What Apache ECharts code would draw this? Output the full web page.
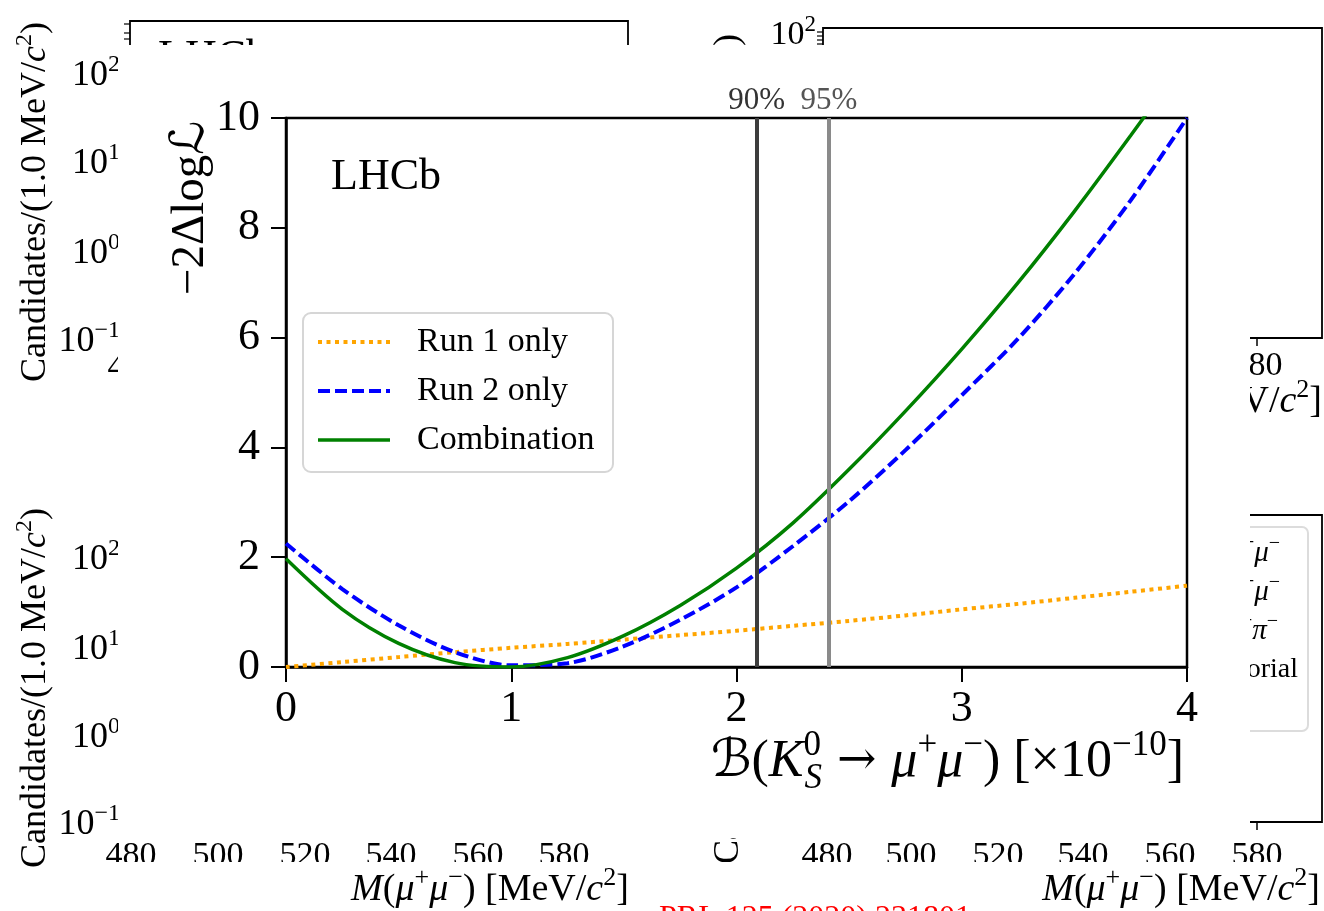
<!DOCTYPE html>
<html>
<head>
<meta charset="utf-8">
<script src="https://cdn.jsdelivr.net/npm/echarts@6/dist/echarts.min.js"></script>
<style>
  html, body { margin: 0; padding: 0; background: #fff; }
  #chart { width: 1324px; height: 911px; }
</style>
</head>
<body>
<div id="chart"></div>
<script>
// Scan points of the branching fraction, in units of 1e-10
const bfValues    = [0, 0.25, 0.5, 0.75, 1.0, 1.25, 1.5, 1.75, 2.0, 2.25, 2.5, 2.75, 3.0, 3.25, 3.5, 3.75, 4.0];
// -2 Delta log L profiles
const run1Only    = [0, 0.09, 0.18, 0.27, 0.35, 0.42, 0.50, 0.58, 0.66, 0.75, 0.84, 0.94, 1.05, 1.15, 1.26, 1.37, 1.48];
const run2Only    = [2.25, 1.42, 0.76, 0.27, 0.03, 0.07, 0.38, 0.86, 1.45, 2.20, 3.02, 3.95, 4.95, 5.98, 7.16, 8.50, 10.0];
const combination = [1.97, 1.05, 0.43, 0.08, 0.0, 0.17, 0.57, 1.12, 1.80, 2.62, 3.60, 4.66, 5.79, 7.00, 8.30, 9.68, 11.1];
const seriesNames = ['Run 1 only', 'Run 2 only', 'Combination'];
// Upper limits at 90% and 95% CL
const limitValues = [2.09, 2.41];
const limitLabels = ['90%', '95%'];
// Axis ticks
const xTicks = [0, 1, 2, 3, 4];
const yTicks = [0, 2, 4, 6, 8, 10];
// Tick labels of the mass-spectrum panels behind the scan
const logTickExps = ['2', '1', '0', '\u22121'];
const massTicks   = ['480', '500', '520', '540', '560', '580'];

const serif = "'Liberation Serif', 'Times New Roman', serif";
const mathFont = "'DejaVu Serif', 'DejaVu Sans', serif";

// rich-text pieces: normal, italic, calligraphic, math symbol, superscript,
// zero-width superscript (stacked over the following subscript), subscript
function rich(size, color) {
  color = color || '#000';
  const s = Math.round(size * 0.68);
  const lh = Math.round(size * 1.3);
  return {
    n:  { fontSize: size, fontFamily: serif, color: color, lineHeight: lh, align: 'left' },
    i:  { fontSize: size, fontFamily: serif, fontStyle: 'italic', color: color, lineHeight: lh, align: 'left' },
    c:  { fontSize: size, fontFamily: mathFont, fontStyle: 'italic', color: color, lineHeight: lh, align: 'left' },
    m:  { fontSize: Math.round(size * 0.9), fontFamily: mathFont, color: color, lineHeight: lh, align: 'left' },
    sp: { fontSize: s, fontFamily: serif, color: color, verticalAlign: 'top', lineHeight: s, align: 'left' },
    sq: { fontSize: s, fontFamily: serif, color: color, verticalAlign: 'top', lineHeight: s, width: 1, align: 'left' },
    sb: { fontSize: s, fontFamily: serif, fontStyle: 'italic', color: color, verticalAlign: 'bottom', lineHeight: s, align: 'left' }
  };
}

function txt(text, x, y, size, opts) {
  opts = opts || {};
  return {
    type: 'text', x: x, y: y, z: opts.z == null ? -20 : opts.z,
    rotation: opts.rotation || 0, silent: true,
    style: {
      x: 0, y: 0, text: text, rich: rich(size, opts.color),
      fontSize: size, fontFamily: serif, fill: opts.color || '#000',
      textAlign: opts.align || 'center', align: opts.align || 'center',
      textVerticalAlign: opts.valign || 'middle', verticalAlign: opts.valign || 'middle'
    }
  };
}
function ln(x1, y1, x2, y2, w, z, stroke, dash) {
  return { type: 'line', z: z == null ? -20 : z, silent: true,
    shape: { x1: x1, y1: y1, x2: x2, y2: y2 },
    style: { stroke: stroke || '#000', lineWidth: w || 1.5, lineDash: dash || null, lineCap: 'butt' } };
}
function box(x, y, w, h) {
  return { type: 'rect', z: -20, silent: true, shape: { x: x, y: y, width: w, height: h },
    style: { fill: 'none', stroke: '#000', lineWidth: 1.8 } };
}

const candLabel = '{n|Candidates/(1.0 MeV/}{i|c}{sp|2}{n|)}';
const massLabel = '{i|M}{n|(}{i|\u03bc}{sp|+}{i|\u03bc}{sp|\u2212}{n|) [MeV/}{i|c}{sp|2}{n|]}';

const lineColors = ['#ffa500', '#0000ff', '#008000'];
const lineTypes = [[4, 4.5], [12, 5], 'solid'];
const lineWidths = [4, 4, 3.5];

const graphics = [];
// panels of the mass spectra behind the scan
graphics.push(box(130, 21, 498, 330));
[24, 33, 39].forEach(function (y) { graphics.push(ln(124, y, 130, y, 1.2)); });
graphics.push(txt('LHCb', 158, 36, 44, { align: 'left', valign: 'top' }));
graphics.push(box(823, 28, 499, 310));
[32, 36, 40, 44].forEach(function (y) { graphics.push(ln(817, y, 823, y, 1.2)); });
graphics.push(ln(1257, 338, 1257, 346, 1.5));
graphics.push(box(823, 515, 499, 307));
graphics.push(ln(1257, 822, 1257, 830, 1.5));
graphics.push({ type: 'rect', z: -22, silent: true, shape: { x: 1140, y: 527, width: 168, height: 204, r: 6 },
  style: { fill: '#fff', stroke: '#dcdcdc', lineWidth: 2 } });

// rotated y titles
graphics.push(txt(candLabel, 36, 202, 36, { rotation: Math.PI / 2 }));
graphics.push(txt(candLabel, 36, 688, 36, { rotation: Math.PI / 2 }));
graphics.push(txt(candLabel, 729, 214, 36, { rotation: Math.PI / 2 }));
graphics.push(txt(candLabel, 729, 684, 36, { rotation: Math.PI / 2 }));

// log-scale tick labels
[76, 164, 254, 342].forEach(function (y, k) {
  graphics.push(txt('{n|10}{sp|' + logTickExps[k] + '}', 120, y, 36, { align: 'right' }));
});
[560, 650, 738, 825].forEach(function (y, k) {
  graphics.push(txt('{n|10}{sp|' + logTickExps[k] + '}', 120, y, 36, { align: 'right' }));
});
graphics.push(txt('{n|10}{sp|2}', 816, 35, 34, { align: 'right' }));
graphics.push(txt(massTicks[0], 133, 368, 34));
graphics.push(txt(massTicks[5], 1257, 366, 34));

// mass tick labels along the bottom
[131, 218, 305, 391, 478, 564].forEach(function (x, k) { graphics.push(txt(massTicks[k], x, 856, 34)); });
[827, 911, 998, 1083, 1170, 1257].forEach(function (x, k) { graphics.push(txt(massTicks[k], x, 856, 34)); });
graphics.push({ type: 'rect', z: -15, silent: true, shape: { x: 90, y: 862, width: 1220, height: 5 }, style: { fill: '#fff' } });

// mass axis titles
graphics.push(txt(massLabel, 490, 890, 38));
graphics.push(txt(massLabel, 1320, 890, 38, { align: 'right' }));
graphics.push(txt(massLabel, 1322, 402, 38, { align: 'right' }));

// legend entries of the lower-right panel
graphics.push(txt('{i|K}{sq|0}{sb|S}{m| \u2192 }{i|\u03bc}{sp|+}{i|\u03bc}{sp|\u2212}', 1280, 553, 29, { align: 'right' }));
graphics.push(txt('{i|K}{sq|0}{sb|L}{m| \u2192 }{i|\u03bc}{sp|+}{i|\u03bc}{sp|\u2212}', 1280, 592, 29, { align: 'right' }));
graphics.push(txt('{i|K}{sq|0}{sb|S}{m| \u2192 }{i|\u03c0}{sp|+}{i|\u03c0}{sp|\u2212}', 1278, 631, 29, { align: 'right' }));
graphics.push(txt('{n|Combinatorial}', 1298, 670, 28, { align: 'right' }));

// reference line
graphics.push(txt('PRL 125 (2020) 231801', 815, 903, 32, { valign: 'top', color: '#ff0000' }));

// white panel holding the likelihood scan
graphics.push({ type: 'rect', z: -10, silent: true, shape: { x: 118, y: 45, width: 1132, height: 793 }, style: { fill: '#fff' } });

// scan axis titles
graphics.push(txt('{n|\u22122\u0394log}{c|\u2112}', 191, 208, 47, { rotation: Math.PI / 2, z: 5 }));
graphics.push(txt('{c|\u212c}{n|(}{i|K}{sq|0}{sb|S}{m| \u2192 }{i|\u03bc}{sp|+}{i|\u03bc}{sp|\u2212}{n|) [\u00d710}{sp|\u221210}{n|]}',
  1184, 762, 52, { align: 'right', z: 5 }));

// legend of the scan
const legendTop = 313;
graphics.push({ type: 'rect', z: 10, silent: true, shape: { x: 303, y: legendTop, width: 310, height: 159, r: 8 },
  style: { fill: '#fff', stroke: '#d6d6d6', lineWidth: 2 } });
seriesNames.forEach(function (name, k) {
  const y = legendTop + 29 + 49 * k;
  graphics.push(ln(318, y, 390, y, lineWidths[k], 11, lineColors[k], Array.isArray(lineTypes[k]) ? lineTypes[k] : null));
  graphics.push(txt('{n|' + name + '}', 417, y, 34, { align: 'left', z: 11 }));
});

const curves = [run1Only, run2Only, combination];
const series = curves.map(function (ys, k) {
  return {
    name: seriesNames[k], type: 'line', symbol: 'none', showSymbol: false, smooth: 0.3, clip: true,
    data: bfValues.map(function (x, i) { return [x, ys[i]]; }),
    lineStyle: { color: lineColors[k], width: lineWidths[k], type: lineTypes[k], cap: 'butt' },
    itemStyle: { color: lineColors[k] }
  };
});
series.push({
  name: 'limits', type: 'line', data: [], silent: true,
  markLine: {
    symbol: ['none', 'none'], silent: true, animation: false,
    label: { show: true, position: 'end', distance: 2, fontSize: 31, fontFamily: serif },
    data: limitValues.map(function (v, i) {
      return {
        xAxis: v,
        lineStyle: { color: i ? '#8a8a8a' : '#3d3d3d', width: 4, type: 'solid' },
        label: { formatter: limitLabels[i], color: i ? '#555' : '#333' }
      };
    })
  }
});

const chart = echarts.init(document.getElementById('chart'));
chart.setOption({
  animation: false,
  backgroundColor: '#fff',
  title: { text: 'LHCb', left: 326, top: 150, textStyle: { fontSize: 44, fontWeight: 'normal', fontFamily: serif, color: '#000' } },
  grid: { left: 286, top: 118, width: 901, height: 549, show: true, borderColor: '#000', borderWidth: 2.5, backgroundColor: 'transparent' },
  xAxis: {
    type: 'value', min: xTicks[0], max: xTicks[xTicks.length - 1], interval: 1,
    axisLine: { show: true, onZero: false, lineStyle: { color: '#000', width: 2.5 } },
    axisTick: { show: true, inside: false, length: 15, lineStyle: { color: '#000', width: 2 } },
    axisLabel: { fontSize: 44, fontFamily: serif, color: '#000', margin: 20 },
    splitLine: { show: false }
  },
  yAxis: {
    type: 'value', min: yTicks[0], max: yTicks[yTicks.length - 1], interval: 2,
    axisLine: { show: true, onZero: false, lineStyle: { color: '#000', width: 2.5 } },
    axisTick: { show: true, inside: false, length: 15, lineStyle: { color: '#000', width: 2 } },
    axisLabel: { fontSize: 44, fontFamily: serif, color: '#000', margin: 26 },
    splitLine: { show: false }
  },
  graphic: { elements: graphics },
  series: series
});
</script>
</body>
</html>
